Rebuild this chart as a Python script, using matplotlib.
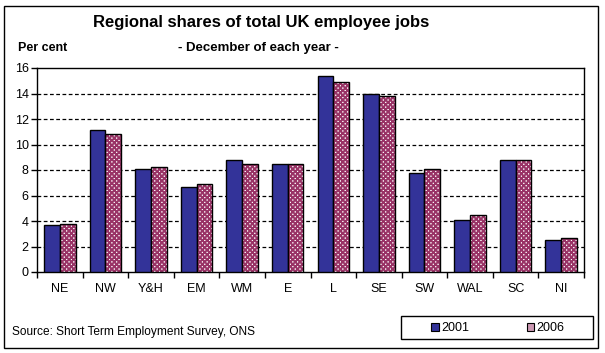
import matplotlib.pyplot as plt
import matplotlib.patches as mpatches
import numpy as np

plt.rcParams['font.family'] = ['Liberation Sans', 'DejaVu Sans']
plt.rcParams['hatch.linewidth'] = 1.4

regions = ["NE", "NW", "Y&H", "EM", "WM", "E", "L", "SE", "SW", "WAL", "SC", "NI"]
jobs_2001 = [3.7, 11.1, 8.05, 6.7, 8.8, 8.5, 15.35, 13.95, 7.8, 4.1, 8.8, 2.5]
jobs_2006 = [3.8, 10.8, 8.2, 6.9, 8.5, 8.5, 14.9, 13.8, 8.05, 4.45, 8.8, 2.65]
yticks = [0, 2, 4, 6, 8, 10, 12, 14, 16]

blue = "#333399"
pink = "#993366"

fig = plt.figure(figsize=(6.05, 3.53), dpi=100)
ax = fig.add_axes([37 / 605, 81 / 353, 547 / 605, 204 / 353])

x = np.arange(len(regions))
w = 0.345

ax.bar(x - w / 2, jobs_2001, w, color=blue, edgecolor="black", linewidth=1, zorder=3)
# hatch colour follows edgecolor, so draw pink hatch first then black outline on top
ax.bar(x + w / 2, jobs_2006, w, color="white", edgecolor=pink, hatch="xxxxxxx",
       linewidth=0, zorder=3)
ax.bar(x + w / 2, jobs_2006, w, fill=False, edgecolor="black", linewidth=1, zorder=4)

ax.set_xlim(-0.5, len(regions) - 0.5)
ax.set_ylim(0, 16)
ax.set_yticks(yticks)
ax.set_yticklabels([str(t) for t in yticks], fontsize=9)
for t in yticks[1:-1]:
    ax.axhline(t, color="black", linestyle=(0, (3, 2)), linewidth=0.9, zorder=1)

ax.set_xticks(x)
ax.set_xticklabels(regions, fontsize=9)
ax.set_xticks(np.arange(len(regions) + 1) - 0.5, minor=True)
ax.tick_params(axis="x", which="major", length=0, pad=8)
ax.tick_params(axis="x", which="minor", length=4, width=1, direction="out")
ax.tick_params(axis="y", length=4, width=1, direction="out", pad=2)
for s in ax.spines.values():
    s.set_linewidth(1)
    s.set_color("black")

fig.text(261 / 605, 1 - 23 / 353, "Regional shares of total UK employee jobs",
         ha="center", va="center", fontsize=12, fontweight="bold")
fig.text(258 / 605, 1 - 48 / 353, "- December of each year -",
         ha="center", va="center", fontsize=9.5, fontweight="bold")
fig.text(18 / 605, 1 - 48 / 353, "Per cent", ha="left", va="center",
         fontsize=9, fontweight="bold")
fig.text(12 / 605, 1 - 332 / 353, "Source: Short Term Employment Survey, ONS",
         ha="left", va="center", fontsize=8.6)

h1 = mpatches.Patch(facecolor=blue, edgecolor="black", linewidth=0.8)
h2 = mpatches.Patch(facecolor="#cc99b3", edgecolor="black", linewidth=0.8)
leg = fig.legend([h1, h2], ["2001", "2006"], ncol=2, loc="center",
                 bbox_to_anchor=(498 / 605, 1 - 328 / 353), fontsize=9,
                 frameon=False, handlelength=0.6, handleheight=0.6,
                 handletextpad=0.2, columnspacing=4.6)

fig.patches.append(mpatches.Rectangle((401 / 605, 1 - 339 / 353), 192 / 605, 23 / 353,
                                      transform=fig.transFigure, fill=False,
                                      edgecolor="black", linewidth=1))
fig.patches.append(mpatches.Rectangle((4 / 605, 5 / 353), 594 / 605, 342 / 353,
                                      transform=fig.transFigure, fill=False,
                                      edgecolor="black", linewidth=1))

fig.savefig("out.png", dpi=100)
